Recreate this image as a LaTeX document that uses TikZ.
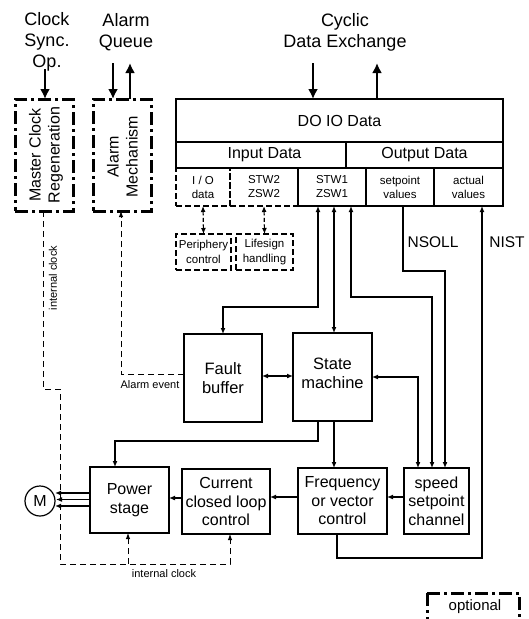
\documentclass[tikz,border=0pt]{standalone}
\usepackage{fontspec}
\setmainfont{Liberation Sans}
\usetikzlibrary{arrows.meta,calc}
\newcommand\pxfont[2]{\fontsize{#1}{#2}\selectfont}

\begin{document}
\begin{tikzpicture}[x=1pt,y=-1pt,
  >={Latex[length=6pt,width=5pt]},
  every node/.style={inner sep=0pt, outer sep=0pt},
  blk/.style={draw, line width=1.5pt, align=center, font=\pxfont{16}{18.5}},
  cell/.style={draw, line width=1.4pt, align=center, font=\pxfont{11.5}{14}},
  dcell/.style={cell, dash pattern=on 6pt off 3pt},
  optbox/.style={draw, line width=3pt, dash pattern=on 13pt off 4pt on 3pt off 4pt},
  optline/.style={line width=3pt, dash pattern=on 13pt off 4pt on 3pt off 4pt},
  lbl/.style={align=center, font=\pxfont{18}{21}},
  small/.style={font=\pxfont{11}{13}},
  link/.style={line width=1.3pt},
  bigarr/.style={line width=2.5pt, -{Latex[length=10pt,width=10pt]}},
  clk/.style={line width=0.9pt, dash pattern=on 6pt off 4pt, >={Latex[length=6pt,width=4.5pt]}},
  dlink/.style={line width=1.2pt, dash pattern=on 4pt off 2.5pt, <->}
]
\useasboundingbox (0,0) rectangle (528,619);
\fill[white] (0,0) rectangle (528,619);

% ---- interface labels at the top ----
\node[lbl, anchor=north] (clklbl) at (47,12) {Clock\\Sync.\\Op.};
\node[lbl, anchor=north] (aqlbl) at (126,13) {Alarm\\Queue};
\node[lbl, anchor=north] (cyclbl) at (345,13) {Cyclic\\Data Exchange};

% ---- optional blocks on the left ----
\node[optbox, minimum width=58pt, minimum height=112pt] (mcr) at (44,155) {};
\node[rotate=90, align=center, font=\pxfont{16}{19}] (mcrtxt) at (46,155) {Master Clock\\Regeneration};
\node[optbox, minimum width=58pt, minimum height=112pt] (alm) at (122,155) {};
\node[rotate=90, align=center, font=\pxfont{16}{19}] (almtxt) at (122.5,157) {Alarm\\Mechanism};

% ---- telegram structure ----
\node[dcell, minimum width=54pt, minimum height=38pt] (iodata) at (203,187) {I / O\\data};
\node[dcell, minimum width=68pt, minimum height=38pt] (stw2) at (264,187) {STW2\\ZSW2};
\node[cell, minimum width=68pt, minimum height=38pt] (stw1) at (332,187) {STW1\\ZSW1};
\node[cell, minimum width=68pt, minimum height=38pt] (setp) at (400,187) {setpoint\\values};
\node[cell, minimum width=69pt, minimum height=38pt] (act) at (468.5,187) {actual\\values};
\node[draw, line width=1.5pt, minimum width=170pt, minimum height=26pt, font=\pxfont{16}{19}] (indata) at (261,155) {\hspace{7pt}Input Data};
\node[draw, line width=1.5pt, minimum width=157pt, minimum height=26pt, font=\pxfont{16}{19}] (outdata) at (424.5,155) {Output Data};
\node[draw, line width=2.5pt, minimum width=327pt, minimum height=43pt, font=\pxfont{16}{19}] (doio) at (339.5,120.5) {DO IO Data};

% ---- optional service blocks ----
\node[dcell, line width=1.5pt, font=\pxfont{11.5}{15}, minimum width=55pt, minimum height=36pt] (periph) at (203.5,252) {Periphery\\control};
\node[dcell, line width=1.5pt, font=\pxfont{11.5}{15}, minimum width=57pt, minimum height=36pt] (life) at (264.5,252) {Lifesign\\handling};

% ---- drive blocks ----
\node[blk, minimum width=78pt, minimum height=88pt, font=\pxfont{16.5}{19}] (fault) at (223,378) {Fault\\buffer};
\node[draw, line width=1.5pt, minimum width=79pt, minimum height=88pt] (state) at (332.5,377) {};
\node[align=center, font=\pxfont{16.5}{19}] (statetxt) at (332.5,373) {State\\machine};
\node[blk, minimum width=79pt, minimum height=66pt] (power) at (129.5,500) {Power\\stage};
\node[blk, minimum width=88pt, minimum height=65pt] (current) at (226,501.5) {Current\\closed loop\\control};
\node[blk, minimum width=89pt, minimum height=66pt] (freq) at (342.5,501) {Frequency\\or vector\\control};
\node[blk, minimum width=65pt, minimum height=66pt] (speed) at (436.5,501) {speed\\setpoint\\channel};
\node[draw, circle, line width=1.2pt, minimum size=30pt, font=\pxfont{16}{19}] (motor) at (40,501) {M};

% ---- cyclic and acyclic interface arrows ----
\coordinate (clkin) at (45,69);
\draw[bigarr, line width=2pt] (clkin) -- (clkin |- mcr.north);
\coordinate (aqin) at (113,63);
\draw[bigarr] (aqin) -- (aqin |- alm.north);
\coordinate (aqout) at (130,63);
\draw[bigarr] (aqout |- alm.north) -- (aqout);
\coordinate (cdin) at (313,63);
\draw[bigarr] (cdin) -- (cdin |- doio.north);
\coordinate (cdout) at (377,63);
\draw[bigarr] (cdout |- doio.north) -- (cdout);

% ---- dashed links to optional services ----
\draw[dlink] (iodata.south) -- (periph.north);
\draw[dlink] (stw2.south) -- (life.north);

% ---- control and status words ----
\coordinate (s1) at (318,307);
\draw[link,<->] (fault.north) |- (s1) -- (s1 |- stw1.south);
\coordinate (s2) at (334,0);
\draw[link,<->] (s2 |- stw1.south) -- (s2 |- state.north);
\coordinate (s3) at (351,297);
\coordinate (s3b) at (432,297);
\draw[link,<->] (s3 |- stw1.south) -- (s3) -- (s3b) -- (s3b |- speed.north);

% ---- setpoint and actual value ----
\coordinate (ns) at (403,271);
\coordinate (nsb) at (445,271);
\draw[link,->] (ns |- setp.south) -- (ns) -- (nsb) -- (nsb |- speed.north);
\node[font=\pxfont{15.5}{18}] (nsoll) at (433,242) {NSOLL};
\coordinate (ni) at (337,558);
\coordinate (nib) at (482,558);
\draw[link,->] (ni |- freq.south) -- (ni) -- (nib) -- (nib |- act.south);
\node[font=\pxfont{15.5}{18}] (nist) at (507,242) {NIST};

% ---- block to block connections ----
\coordinate (fs) at (0,376);
\draw[link,<->] (fault.east |- fs) -- (state.west |- fs);
\coordinate (ss) at (418,377);
\draw[link,<->] (state.east |- ss) -- (ss) -- (ss |- speed.north);
\coordinate (sf) at (334,0);
\draw[link,->] (sf |- state.south) -- (sf |- freq.north);
\coordinate (sp) at (318,441);
\coordinate (spb) at (115,441);
\draw[link,->] (sp |- state.south) -- (sp) -- (spb) -- (spb |- power.north);
\coordinate (h1) at (0,497);
\draw[link,->] (speed.west |- h1) -- (freq.east |- h1);
\draw[link,->] (freq.west |- h1) -- (current.east |- h1);
\coordinate (h2) at (0,498);
\draw[link,->] (current.west |- h2) -- (power.east |- h2);

% ---- motor phases ----
\coordinate (m1) at (55,493);
\coordinate (m2) at (56,499.5);
\coordinate (m3) at (55,506);
\draw[link,->] (m1 -| power.west) -- (m1);
\draw[link,->] (m2 -| power.west) -- (m2);
\draw[link,->] (m3 -| power.west) -- (m3);

% ---- alarm event ----
\coordinate (ae) at (121,374);
\draw[clk,->] (fault.west |- ae) -- (ae) -- (ae |- alm.south);
\node[small] (aelbl) at (150,385) {Alarm event};

% ---- internal clock distribution ----
\coordinate (ic1) at (43,389);
\coordinate (ic2) at (60,564);
\coordinate (ic3) at (230,564);
\coordinate (ic4) at (128,564);
\draw[clk,->] (ic1 |- mcr.south) -- (ic1) -- (ic1 -| ic2) -- (ic2) -- (ic3) -- (ic3 |- current.south);
\draw[clk,->] (ic4) -- (ic4 |- power.south);
\node[small, rotate=90] (iclbl1) at (53,278) {internal clock};
\node[small] (iclbl2) at (164,574) {internal clock};

% ---- legend ----
\coordinate (lg1) at (427,593);
\coordinate (lg2) at (519,593);
\coordinate (lg3) at (427,622);
\coordinate (lg4) at (519,622);
\draw[optline] (lg1) -- (lg3);
\draw[optline] (lg1) -- (lg2) -- (lg4);
\node[font=\pxfont{15}{18}] (optlbl) at (475,607) {optional};
\end{tikzpicture}
\end{document}
